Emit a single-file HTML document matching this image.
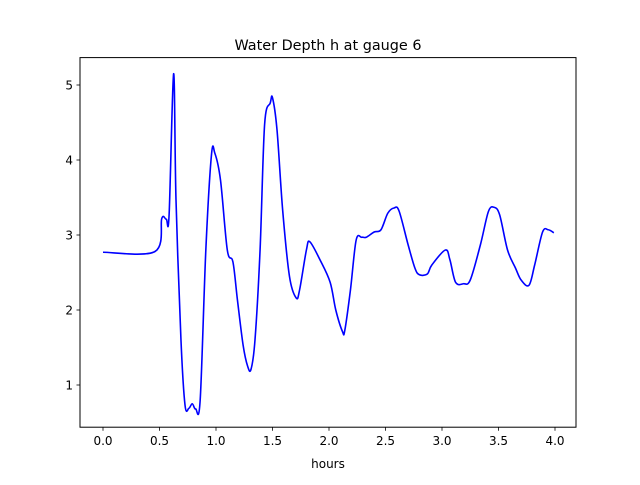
<!DOCTYPE html>
<html><head><meta charset="utf-8"><style>
html,body{margin:0;padding:0;background:#fff;}
svg text{font-family:"DejaVu Sans","Liberation Sans",sans-serif;}
</style></head><body>
<svg id="chart" width="640" height="480" xmlns="http://www.w3.org/2000/svg">
<rect width="640" height="480" fill="#fff"/>
<text x="328" y="50" font-size="14.4" text-anchor="middle">Water Depth h at gauge 6</text>
<g id="plot"></g>
<rect x="80" y="57.6" width="496" height="369.6" fill="none" stroke="#000" stroke-width="1"/>
<text x="328" y="468" font-size="12" text-anchor="middle">hours</text>
</svg>
<script>
const times=[0,0.46,0.52,0.56,0.585,0.625,0.646,0.69,0.726,0.76,0.79,0.82,0.86,0.91,0.96,0.99,1.04,1.1,1.15,1.19,1.24,1.28,1.31,1.345,1.39,1.43,1.48,1.5,1.54,1.59,1.65,1.71,1.74,1.8,1.83,1.92,2.01,2.06,2.12,2.14,2.19,2.24,2.29,2.33,2.4,2.46,2.52,2.575,2.62,2.7,2.76,2.8,2.87,2.91,3.03,3.07,3.12,3.19,3.25,3.34,3.41,3.46,3.51,3.58,3.65,3.7,3.77,3.82,3.89,3.94,3.99];
const depths=[2.77,2.78,3.22,3.21,3.27,5.15,3.47,1.6,0.73,0.69,0.75,0.68,0.8,2.8,4.07,4.09,3.73,2.8,2.64,2.13,1.53,1.25,1.21,1.6,2.8,4.47,4.76,4.83,4.4,3.33,2.45,2.16,2.27,2.8,2.91,2.67,2.37,2.0,1.71,1.73,2.27,2.93,2.97,2.97,3.04,3.07,3.29,3.36,3.32,2.87,2.56,2.47,2.48,2.6,2.8,2.67,2.37,2.35,2.4,2.87,3.31,3.37,3.27,2.8,2.56,2.4,2.33,2.6,3.04,3.07,3.03];
const xTicks=[0,0.5,1,1.5,2,2.5,3,3.5,4];
const xTickLabels=["0.0","0.5","1.0","1.5","2.0","2.5","3.0","3.5","4.0"];
const yTicks=[1,2,3,4,5];
const yTickLabels=["1","2","3","4","5"];
const NS="http://www.w3.org/2000/svg";
function sx(t){return 103+t*113;}
function sy(v){return 385-(v-1)*75;}
const g=document.getElementById('plot');
function mk(tag,attrs){const e=document.createElementNS(NS,tag);for(const k in attrs)e.setAttribute(k,attrs[k]);g.appendChild(e);return e;}
xTicks.forEach((t,i)=>{
  const l=mk('line',{x1:sx(t),x2:sx(t),y1:427.2,y2:430.7,stroke:'#000','stroke-width':0.8});
  
  
  const tx=mk('text',{x:sx(t),y:445,'font-size':12,'text-anchor':'middle'});
  tx.textContent=xTickLabels[i];
  
  
});
yTicks.forEach((v,i)=>{
  const l=mk('line',{x1:76.5,x2:80,y1:sy(v),y2:sy(v),stroke:'#000','stroke-width':0.8});
  
  
  const tx=mk('text',{x:73,y:sy(v)+4.5,'font-size':12,'text-anchor':'end'});
  tx.textContent=yTickLabels[i];
  
  
});
const P=times.map((t,i)=>[sx(t),sy(depths[i])]);
let d='M'+P[0][0]+','+P[0][1];
for(let i=0;i<P.length-1;i++){
  const p0=P[Math.max(0,i-1)],p1=P[i],p2=P[i+1],p3=P[Math.min(P.length-1,i+2)];
  const c1=[p1[0]+(p2[0]-p0[0])/6,p1[1]+(p2[1]-p0[1])/6];
  const c2=[p2[0]-(p3[0]-p1[0])/6,p2[1]-(p3[1]-p1[1])/6];
  d+=' C'+c1[0]+','+c1[1]+' '+c2[0]+','+c2[1]+' '+p2[0]+','+p2[1];
}
const line=mk('path',{d:d,fill:'none',stroke:'#0000ff','stroke-width':1.6,'stroke-linejoin':'round'});


</script>
</body></html>
